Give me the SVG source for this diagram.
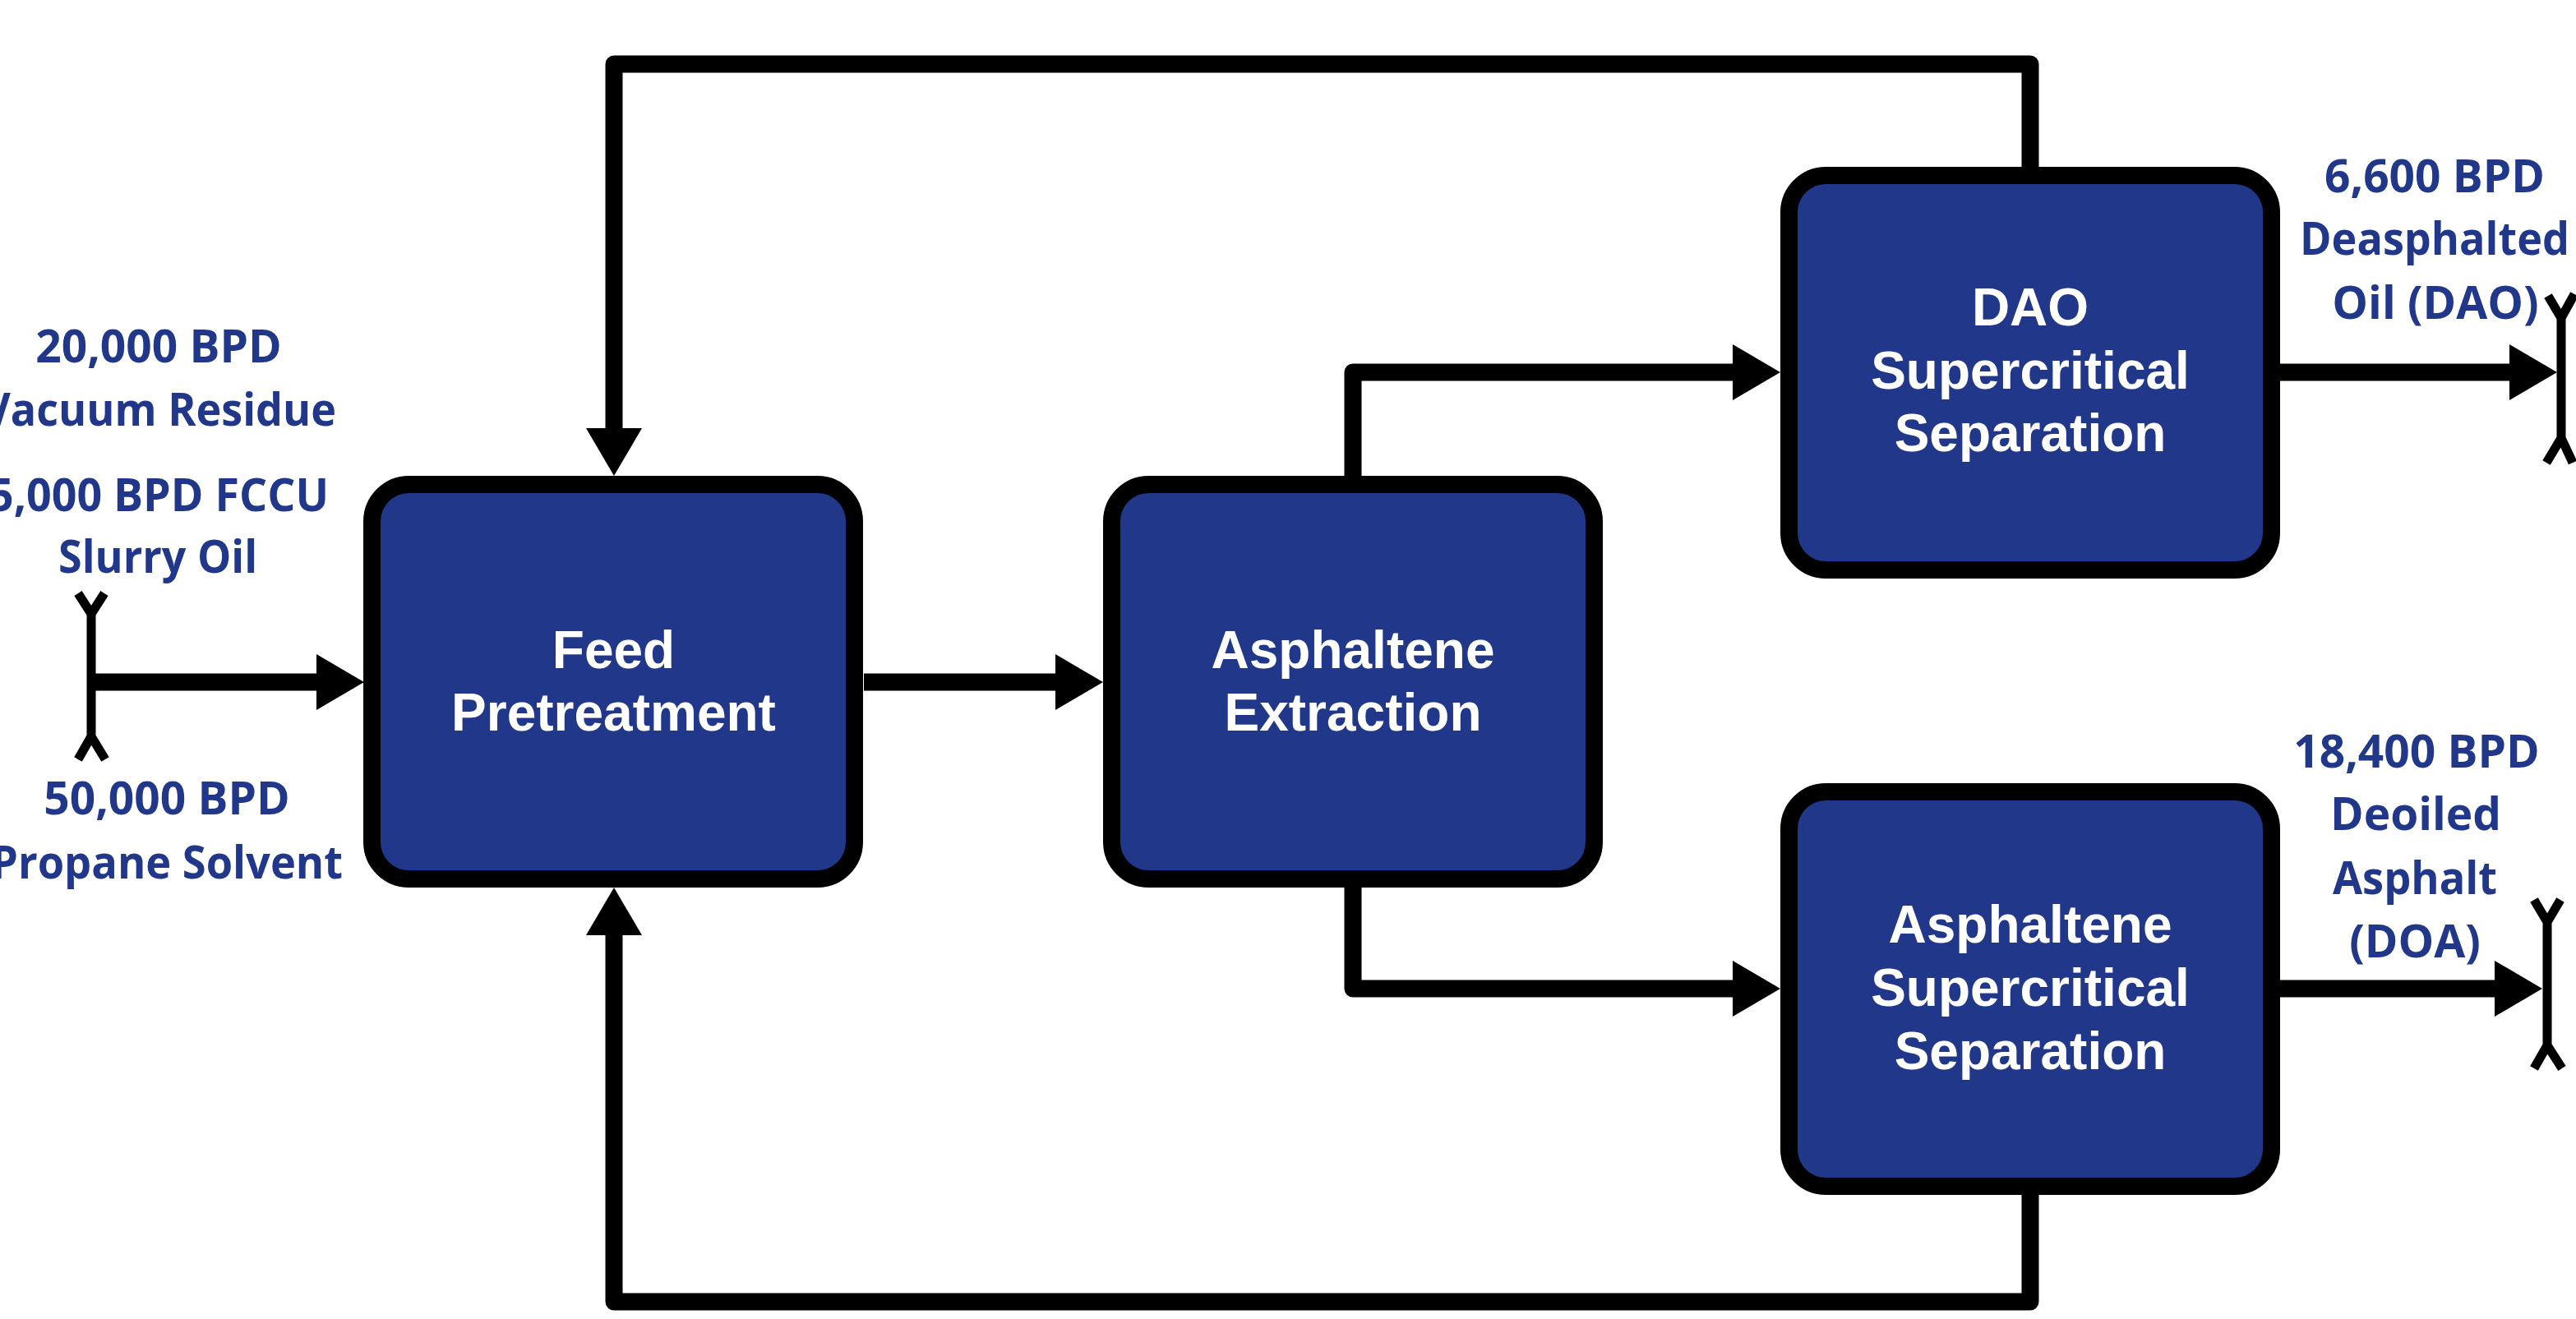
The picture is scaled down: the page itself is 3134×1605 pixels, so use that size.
<svg xmlns="http://www.w3.org/2000/svg" width="3134" height="1605" viewBox="0 0 3134 1605">
<style>
.box{fill:#21378A;stroke:#000;stroke-width:21}
.nt{font-family:"Liberation Sans",Arial,sans-serif;font-weight:700;font-size:64px;fill:#fff;text-anchor:middle}
.lb{font-family:"Open Sans","Liberation Sans",sans-serif;font-weight:700;font-size:55px;fill:#21378A;text-anchor:middle}
.ln{fill:none;stroke:#000;stroke-width:21;stroke-linejoin:round}
.tm{fill:none;stroke:#000;stroke-width:11}
</style>
<defs>
<marker id="ah" markerUnits="userSpaceOnUse" markerWidth="58" markerHeight="68" refX="0" refY="34" orient="auto" overflow="visible"><path d="M0,0 L58,34 L0,68 Z" fill="#000"/></marker>
</defs>
<rect width="3134" height="1605" fill="#fff"/>
<g id="connectors">
<path class="ln" d="M111,830 H385" marker-end="url(#ah)"/>
<path class="ln" d="M1051,830 H1284" marker-end="url(#ah)"/>
<path class="ln" d="M1646,579 V453 H2108" marker-end="url(#ah)"/>
<path class="ln" d="M1646,1080 V1203 H2108" marker-end="url(#ah)"/>
<path class="ln" d="M2470,203 V78 H747 V521" marker-end="url(#ah)"/>
<path class="ln" d="M2470,1453 V1584 H747 V1138" marker-end="url(#ah)"/>
<path class="ln" d="M2774,453 H3053" marker-end="url(#ah)"/>
<path class="ln" d="M2774,1203 H3035" marker-end="url(#ah)"/>
<path class="tm" d="M95,722 L111,747 L127,722 M111,747 V896 M95,924 L111,896 L128,924"/>
<path class="tm" d="M3100,360 L3116,387 L3132,358 M3116,387 V533 M3098,563 L3116,533 L3130,563"/>
<path class="tm" d="M3083,1095 L3099,1122 L3115,1095 M3099,1122 V1272 M3083,1300 L3099,1272 L3117,1300"/>
</g>
<g id="feed-pretreatment">
<rect class="box" x="452.5" y="589.5" width="587" height="480" rx="45"/>
<text class="nt" x="746.5" y="813">Feed</text>
<text class="nt" x="746.5" y="889">Pretreatment</text>
</g>
<g id="asphaltene-extraction">
<rect class="box" x="1352.5" y="589.5" width="587" height="480" rx="45"/>
<text class="nt" x="1646" y="813">Asphaltene</text>
<text class="nt" x="1646" y="889">Extraction</text>
</g>
<g id="dao-separation">
<rect class="box" x="2176.5" y="213.5" width="587" height="480" rx="45"/>
<text class="nt" x="2470" y="396">DAO</text>
<text class="nt" x="2470" y="473">Supercritical</text>
<text class="nt" x="2470" y="549">Separation</text>
</g>
<g id="asphaltene-separation">
<rect class="box" x="2176.5" y="963.5" width="587" height="480" rx="45"/>
<text class="nt" x="2470" y="1147">Asphaltene</text>
<text class="nt" x="2470" y="1224">Supercritical</text>
<text class="nt" x="2470" y="1301">Separation</text>
</g>
<g id="feed-labels">
<text class="lb" x="193" y="441">20,000 BPD</text>
<text class="lb" x="194" y="518" textLength="430" lengthAdjust="spacingAndGlyphs">Vacuum Residue</text>
<text class="lb" x="193" y="622" textLength="414" lengthAdjust="spacingAndGlyphs">5,000 BPD FCCU</text>
<text class="lb" x="192" y="697" textLength="242" lengthAdjust="spacingAndGlyphs">Slurry Oil</text>
<text class="lb" x="203" y="991">50,000 BPD</text>
<text class="lb" x="203" y="1069" textLength="428" lengthAdjust="spacingAndGlyphs">Propane Solvent</text>
</g>
<g id="dao-product">
<text class="lb" x="2962" y="234">6,600 BPD</text>
<text class="lb" x="2962" y="310" textLength="328" lengthAdjust="spacingAndGlyphs">Deasphalted</text>
<text class="lb" x="2963" y="388">Oil (DAO)</text>
</g>
<g id="doa-product">
<text class="lb" x="2940" y="934">18,400 BPD</text>
<text class="lb" x="2939" y="1010">Deoiled</text>
<text class="lb" x="2938" y="1088" textLength="200" lengthAdjust="spacingAndGlyphs">Asphalt</text>
<text class="lb" x="2938" y="1165">(DOA)</text>
</g>
</svg>
